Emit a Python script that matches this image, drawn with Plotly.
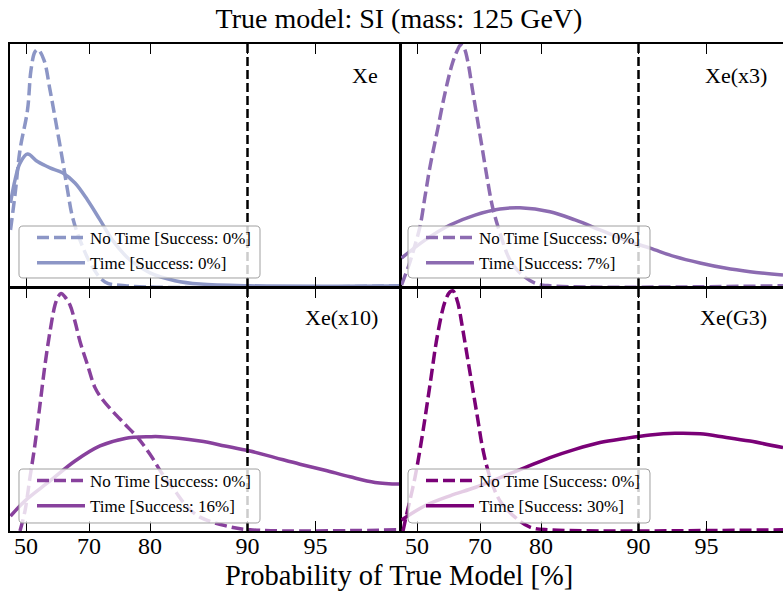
import plotly.graph_objects as go
from plotly.subplots import make_subplots

# ---------------- data (x in axis units of the transformed probability scale, y = normalised density) ----------------
tick_pos = [16, 79, 140, 237.5, 305.5]
tick_text = ["50", "70", "80", "90", "95"]
threshold_pos = 237.5  # position of 90 %

panels = ["Xe", "Xe(x3)", "Xe(x10)", "Xe(G3)"]
colors = ["#8c96c6", "#8c6bb1", "#88419d", "#7a0177"]
success_notime = ["0%", "0%", "0%", "0%"]
success_time = ["0%", "7%", "16%", "30%"]

xe_nt_x = [0.5, 5, 10, 17.5, 21, 25, 28, 34, 40, 46, 52.5, 57.5, 62.5, 70, 82.5, 95, 115, 390]
xe_nt_y = [0.235, 0.379, 0.564, 0.728, 0.893, 0.968, 0.977, 0.934, 0.811, 0.675, 0.523, 0.399, 0.288, 0.193, 0.082, 0.021, 0.005, 0.005]
xe_t_x = [0.5, 5, 10, 17.5, 27.5, 40, 52.5, 65, 77.5, 90, 102.5, 120, 140, 165, 190, 240, 390]
xe_t_y = [0.346, 0.440, 0.510, 0.547, 0.516, 0.490, 0.470, 0.428, 0.358, 0.276, 0.193, 0.111, 0.058, 0.026, 0.012, 0.005, 0.004]

x3_nt_x = [0.5, 9, 14, 19, 24, 29, 36.5, 44, 51.5, 56.5, 59.5, 63, 66.5, 71.5, 76.5, 81.5, 86.5, 91.5, 99, 109, 119, 134, 149, 382]
x3_nt_y = [0.008, 0.103, 0.173, 0.248, 0.372, 0.495, 0.646, 0.798, 0.922, 0.975, 0.996, 0.984, 0.934, 0.811, 0.687, 0.564, 0.440, 0.330, 0.222, 0.111, 0.058, 0.016, 0.005, 0.005]
x3_t_x = [0.5, 24, 49, 74, 99, 119, 149, 174, 199, 224, 249, 274, 299, 324, 349, 382]
x3_t_y = [0.119, 0.193, 0.255, 0.296, 0.321, 0.326, 0.310, 0.276, 0.235, 0.193, 0.160, 0.125, 0.099, 0.078, 0.063, 0.049]

x10_nt_x = [10, 15, 20, 25, 30, 35, 40, 45, 48, 51, 55, 60, 65, 70, 77.5, 85, 92.5, 102.5, 115, 127.5, 140, 152.5, 165, 177.5, 190, 215, 240, 390]
x10_nt_y = [0.0, 0.083, 0.221, 0.357, 0.520, 0.684, 0.821, 0.930, 0.963, 0.977, 0.963, 0.930, 0.862, 0.780, 0.684, 0.590, 0.541, 0.493, 0.439, 0.385, 0.316, 0.234, 0.165, 0.098, 0.057, 0.022, 0.005, 0.005]
x10_t_x = [0.5, 15, 40, 65, 90, 115, 140, 150, 190, 215, 240, 265, 290, 315, 340, 365, 390]
x10_t_y = [0.061, 0.124, 0.206, 0.288, 0.350, 0.381, 0.388, 0.388, 0.370, 0.350, 0.329, 0.302, 0.275, 0.250, 0.223, 0.200, 0.193]

g3_nt_x = [2, 5, 14, 21.5, 29, 36.5, 44, 49, 52, 56.5, 61.5, 66.5, 71.5, 76.5, 81.5, 89, 99, 114, 129, 149, 382]
g3_nt_y = [0.0, 0.057, 0.221, 0.398, 0.602, 0.807, 0.944, 0.984, 0.988, 0.944, 0.836, 0.713, 0.590, 0.467, 0.344, 0.221, 0.124, 0.057, 0.016, 0.005, 0.005]
g3_t_x = [0.5, 24, 49, 74, 99, 124, 149, 174, 199, 224, 249, 274, 299, 324, 349, 382]
g3_t_y = [0.045, 0.104, 0.145, 0.179, 0.220, 0.261, 0.302, 0.336, 0.364, 0.381, 0.395, 0.402, 0.400, 0.386, 0.370, 0.343]

notime = [(xe_nt_x, xe_nt_y), (x3_nt_x, x3_nt_y), (x10_nt_x, x10_nt_y), (g3_nt_x, g3_nt_y)]
withtime = [(xe_t_x, xe_t_y), (x3_t_x, x3_t_y), (x10_t_x, x10_t_y), (g3_t_x, g3_t_y)]

# ---------------- layout geometry ----------------
W, H = 783, 595
ML, MR, MT, MB = 10, 0, 44, 64
PW, PH = W - ML - MR, H - MT - MB
FONT = "Liberation Serif, Times New Roman, serif"

def px2paper(x, y):
    # page pixel -> paper coordinates
    return (x - ML) / PW, (H - MB - y) / PH

fig = make_subplots(rows=2, cols=2, horizontal_spacing=0, vertical_spacing=0)

cells = [(1, 1), (1, 2), (2, 1), (2, 2)]
legend_names = ["legend", "legend2", "legend3", "legend4"]
for i, (r, c) in enumerate(cells):
    col = colors[i]
    nx, ny = notime[i]
    tx, ty = withtime[i]
    fig.add_trace(go.Scatter(x=nx, y=ny, mode="lines", line=dict(color=col, width=3.5, dash="12px,5px", shape="spline"),
                             name=f"No Time [Success: {success_notime[i]}]", legend=legend_names[i]), row=r, col=c)
    fig.add_trace(go.Scatter(x=tx, y=ty, mode="lines", line=dict(color=col, width=3.5, shape="spline"),
                             name=f"Time [Success: {success_time[i]}]", legend=legend_names[i]), row=r, col=c)
    fig.add_vline(x=threshold_pos, line=dict(color="black", width=2.5, dash="9px,4px"), row=r, col=c)

# domains
left_dom = [0, 390 / PW]
right_dom = [391 / PW, 1]
top_dom = [244 / PH, 1]
bot_dom = [0, 243 / PH]
xranges = {1: [0, 390], 2: [0, 382]}

for i, (r, c) in enumerate(cells):
    idx = i + 1
    xa = "xaxis" if idx == 1 else f"xaxis{idx}"
    ya = "yaxis" if idx == 1 else f"yaxis{idx}"
    fig.layout[xa].update(domain=left_dom if c == 1 else right_dom, range=xranges[c],
                          tickmode="array", tickvals=tick_pos, ticktext=tick_text,
                          ticks="inside", ticklen=10, tickwidth=1, tickcolor="black",
                          showline=True, linecolor="black", linewidth=1.5, mirror="ticks",
                          showgrid=False, zeroline=False, showticklabels=(r == 2),
                          ticklabelstandoff=-8,
                          tickfont=dict(family=FONT, size=24, color="black"))
    fig.layout[ya].update(domain=top_dom if r == 1 else bot_dom, range=[0, 1],
                          showline=True, linecolor="black", linewidth=1.5, mirror=(c == 1),
                          showgrid=False, zeroline=False, showticklabels=False, ticks="")

# legends (boxes drawn as rounded shapes behind)
legend_boxes = [(19, 260, 226, 278), (408, 650, 226, 278), (19, 260, 469, 523), (408, 650, 469, 523)]
for i, (x0, x1, y0, y1) in enumerate(legend_boxes):
    r = 4
    def P(x, y):
        a, b = px2paper(x, y)
        return f"{a:.5f},{b:.5f}"
    path = (f"M{P(x0 + r, y0)} L{P(x1 - r, y0)} Q{P(x1, y0)} {P(x1, y0 + r)} L{P(x1, y1 - r)} "
            f"Q{P(x1, y1)} {P(x1 - r, y1)} L{P(x0 + r, y1)} Q{P(x0, y1)} {P(x0, y1 - r)} "
            f"L{P(x0, y0 + r)} Q{P(x0, y0)} {P(x0 + r, y0)} Z")
    fig.add_shape(type="path", xref="paper", yref="paper", path=path, layer="above",
                  fillcolor="rgba(255,255,255,0.8)", line=dict(color="#a0a0a0", width=1))
    lx, ly = px2paper(x0 + 13, y0 - 6)
    fig.layout[legend_names[i]] = dict(x=lx, y=ly, xanchor="left", yanchor="top", bgcolor="rgba(0,0,0,0)",
                                       borderwidth=0, itemwidth=48,
                                       font=dict(family=FONT, size=17, color="black"))

# panel labels
label_pos = [(370, 0.872), (368, 0.872), (370, 0.877), (368, 0.877)]
for i, (r, c) in enumerate(cells):
    idx = i + 1
    fig.add_annotation(text=panels[i], x=label_pos[i][0], y=label_pos[i][1],
                       xref="x" if idx == 1 else f"x{idx}", yref="y" if idx == 1 else f"y{idx}",
                       xanchor="right", yanchor="middle", showarrow=False,
                       font=dict(family=FONT, size=22, color="black"))

# x axis title
ax, ay = px2paper(399, 575)
fig.add_annotation(text="Probability of True Model [%]", x=ax, y=ay, xref="paper", yref="paper",
                   xanchor="center", yanchor="middle", showarrow=False,
                   font=dict(family=FONT, size=28.5, color="black"))

fig.update_layout(
    width=W, height=H, margin=dict(l=ML, r=MR, t=MT, b=MB),
    paper_bgcolor="white", plot_bgcolor="white", showlegend=True,
    title=dict(text="True model: SI (mass: 125 GeV)", x=399 / W, xanchor="center",
               y=1 - 18 / H, yanchor="middle", yref="container",
               font=dict(family=FONT, size=28, color="black")),
)

fig.write_html("out.html", config={"displayModeBar": False},
               post_script="document.body.style.margin='0';document.body.style.overflow='hidden';")
